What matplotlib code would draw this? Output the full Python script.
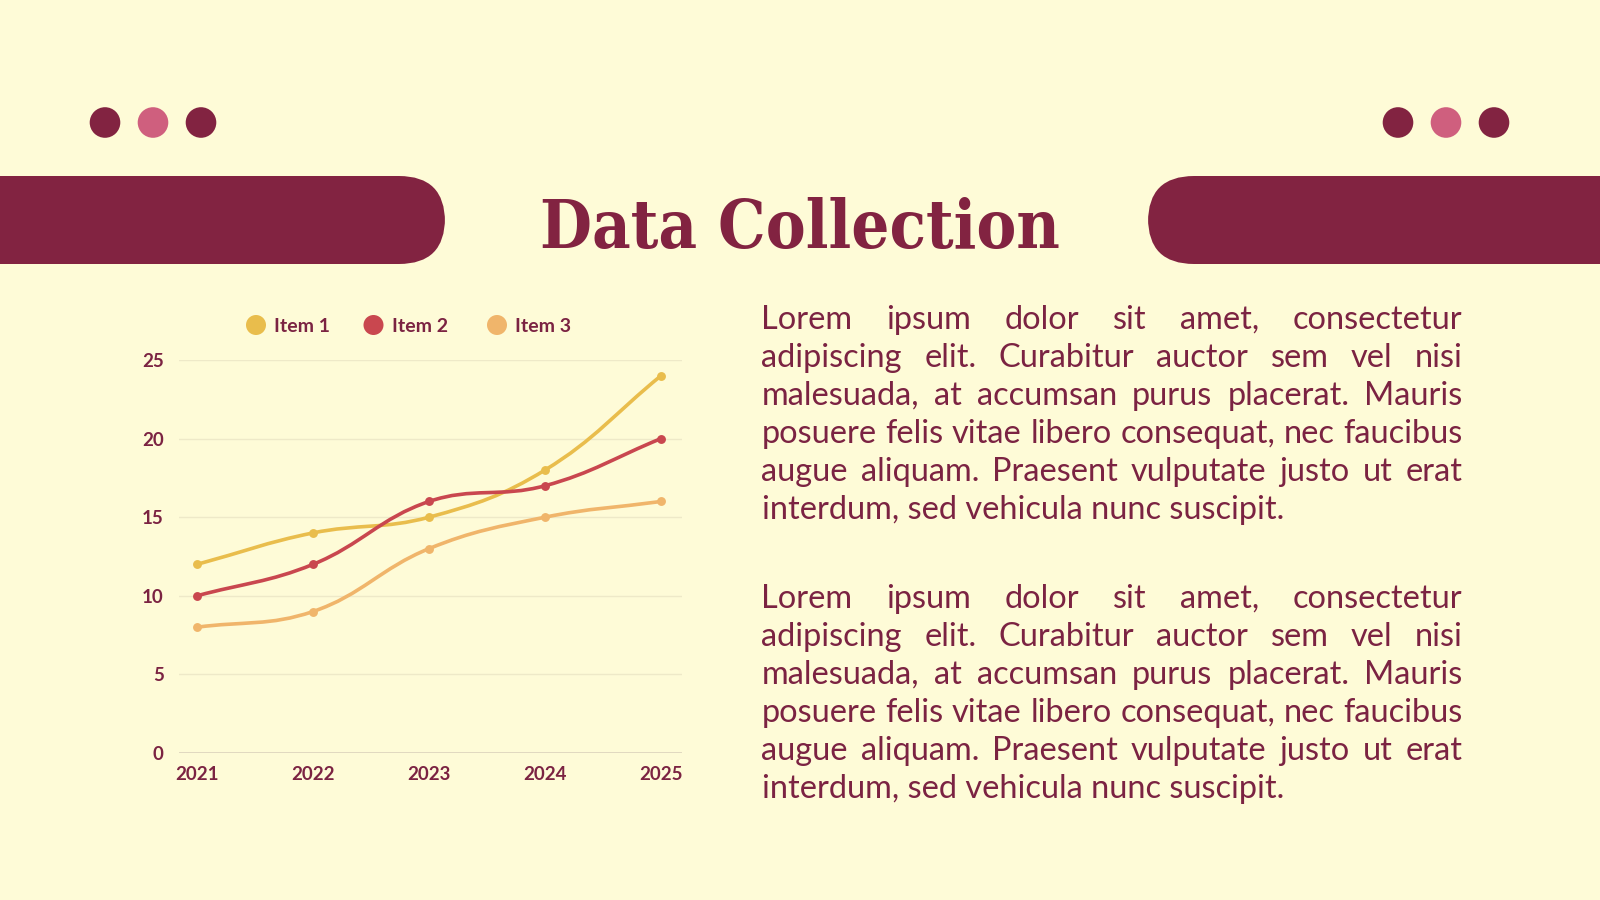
import matplotlib
matplotlib.use("Agg")
import matplotlib.pyplot as plt
from matplotlib.patches import FancyBboxPatch, Circle, PathPatch
from matplotlib.path import Path
import numpy as np

# ---------------- data ----------------
years = [2021, 2022, 2023, 2024, 2025]
item1 = [12, 14, 15, 18, 24]
item2 = [10, 12, 16, 17, 20]
item3 = [8, 9, 13, 15, 16]
series_names = ["Item 1", "Item 2", "Item 3"]
y_ticks = [0, 5, 10, 15, 20, 25]
title = "Data Collection"
para_lines = [
    "Lorem ipsum dolor sit amet, consectetur",
    "adipiscing elit. Curabitur auctor sem vel nisi",
    "malesuada, at accumsan purus placerat. Mauris",
    "posuere felis vitae libero consequat, nec faucibus",
    "augue aliquam. Praesent vulputate justo ut erat",
    "interdum, sed vehicula nunc suscipit.",
]

# ---------------- style ----------------
BG = "#FEFBD7"
MAROON = "#822341"
PINK = "#CF5F7E"
TEXT = "#7B2342"
COLORS = ["#E9BD4C", "#C9474F", "#F0B56B"]
GRID = "#EEE9C8"
FONT = "Lato"

W, H = 1600, 900
fig = plt.figure(figsize=(16, 9), dpi=100, facecolor=BG)
bg = fig.add_axes([0, 0, 1, 1])
bg.set_xlim(0, W)
bg.set_ylim(H, 0)
bg.axis("off")
bg.set_facecolor(BG)

# decorative dots
for cx, col in zip([105, 153, 201], [MAROON, PINK, MAROON]):
    bg.add_patch(Circle((cx, 122.5), 15.3, color=col, lw=0))
for cx, col in zip([1398, 1446, 1494], [MAROON, PINK, MAROON]):
    bg.add_patch(Circle((cx, 122.5), 15.3, color=col, lw=0))

# bars with rounded inner ends
bg.add_patch(FancyBboxPatch((-200, 176), 645, 88,
                            boxstyle="round,pad=0,rounding_size=46",
                            fc=MAROON, ec="none"))
bg.add_patch(FancyBboxPatch((1148, 176), 700, 88,
                            boxstyle="round,pad=0,rounding_size=46",
                            fc=MAROON, ec="none"))

# title
bg.text(800, 248, title, ha="center", va="baseline", color=MAROON,
        fontsize=48, fontweight="bold", family="DejaVu Serif",
        fontstretch="condensed")

# ---------------- chart ----------------
ax_left, ax_right, ax_bottom, ax_top = 179, 682, 753, 360
ax = fig.add_axes([ax_left / W, (H - ax_bottom) / H,
                   (ax_right - ax_left) / W, (ax_bottom - ax_top) / H])
ax.set_facecolor("none")
x0 = 2021 - 18 / 116
x1 = 2025 + 21 / 116
ax.set_xlim(x0, x1)
ax.set_ylim(0, 25)
for s in ax.spines.values():
    s.set_visible(False)
ax.set_yticks(y_ticks)
ax.set_xticks(years)
ax.grid(axis="y", color=GRID, lw=1.0)
ax.grid(axis="x", visible=False)
ax.axhline(0, color="#DDD3BC", lw=1.2, zorder=1)
ax.tick_params(length=0, labelcolor=TEXT, labelsize=13.5)
ax.tick_params(axis="y", pad=11)
ax.tick_params(axis="x", pad=9)
for lab in ax.get_xticklabels() + ax.get_yticklabels():
    lab.set_fontweight("bold")
    lab.set_family(FONT)
ax.set_axisbelow(True)

sx = (ax_right - ax_left) / (x1 - x0)
sy = (ax_bottom - ax_top) / 25.0


def spline_path(xs, ys, t=0.4):
    pts = np.array([[x * sx, y * sy] for x, y in zip(xs, ys)], float)
    n = len(pts)
    cps_prev, cps_next = [], []
    for i in range(n):
        prev = pts[i - 1] if i > 0 else pts[i]
        cur = pts[i]
        nxt = pts[i + 1] if i < n - 1 else pts[i]
        d01 = np.hypot(*(cur - prev))
        d12 = np.hypot(*(nxt - cur))
        tot = d01 + d12
        s01 = d01 / tot if tot else 0
        s12 = d12 / tot if tot else 0
        cps_prev.append(cur - t * s01 * (nxt - prev))
        cps_next.append(cur + t * s12 * (nxt - prev))
    verts = [pts[0]]
    codes = [Path.MOVETO]
    for i in range(n - 1):
        verts += [cps_next[i], cps_prev[i + 1], pts[i + 1]]
        codes += [Path.CURVE4] * 3
    verts = np.array(verts) / np.array([sx, sy])
    return Path(verts, codes)


for vals, col in zip([item1, item2, item3], COLORS):
    ax.add_patch(PathPatch(spline_path(years, vals), fc="none", ec=col,
                           lw=2.6, clip_on=False, zorder=3,
                           capstyle="round", joinstyle="round"))
    ax.plot(years, vals, "o", color=col, ms=6.4, mew=0, clip_on=False,
            zorder=4)

# legend
leg_circle_x = [256, 373.5, 497]
for name, col, cx in zip(series_names, COLORS, leg_circle_x):
    bg.add_patch(Circle((cx, 325), 10, color=col, lw=0))
    bg.text(cx + 18, 325, name, ha="left", va="center_baseline", color=TEXT,
            fontsize=14, fontweight="bold", family=FONT)

# ---------------- justified paragraphs ----------------
renderer = fig.canvas.get_renderer()
LEFT, RIGHT = 761.5, 1462.5


def measure(s, fs):
    t = bg.text(0, 0, s, fontsize=fs, family=FONT)
    bb = t.get_window_extent(renderer)
    t.remove()
    return bb.width


base_fs = 20
w_long = measure(para_lines[3], base_fs)
fs = base_fs * (RIGHT - LEFT) / w_long


def draw_para(y0, spacing=38.0):
    for k, line in enumerate(para_lines):
        y = y0 + k * spacing
        words = line.split(" ")
        if k == len(para_lines) - 1:
            bg.text(LEFT, y, line, fontsize=fs, family=FONT, color=TEXT,
                    ha="left", va="baseline")
            continue
        widths = [measure(w_, fs) for w_ in words]
        gap = (RIGHT - LEFT - sum(widths)) / (len(words) - 1)
        x = LEFT
        for w_, ww in zip(words, widths):
            bg.text(x, y, w_, fontsize=fs, family=FONT, color=TEXT,
                    ha="left", va="baseline")
            x += ww + gap


draw_para(329)
draw_para(607.5)

fig.savefig("out.png", dpi=100, facecolor=BG)
